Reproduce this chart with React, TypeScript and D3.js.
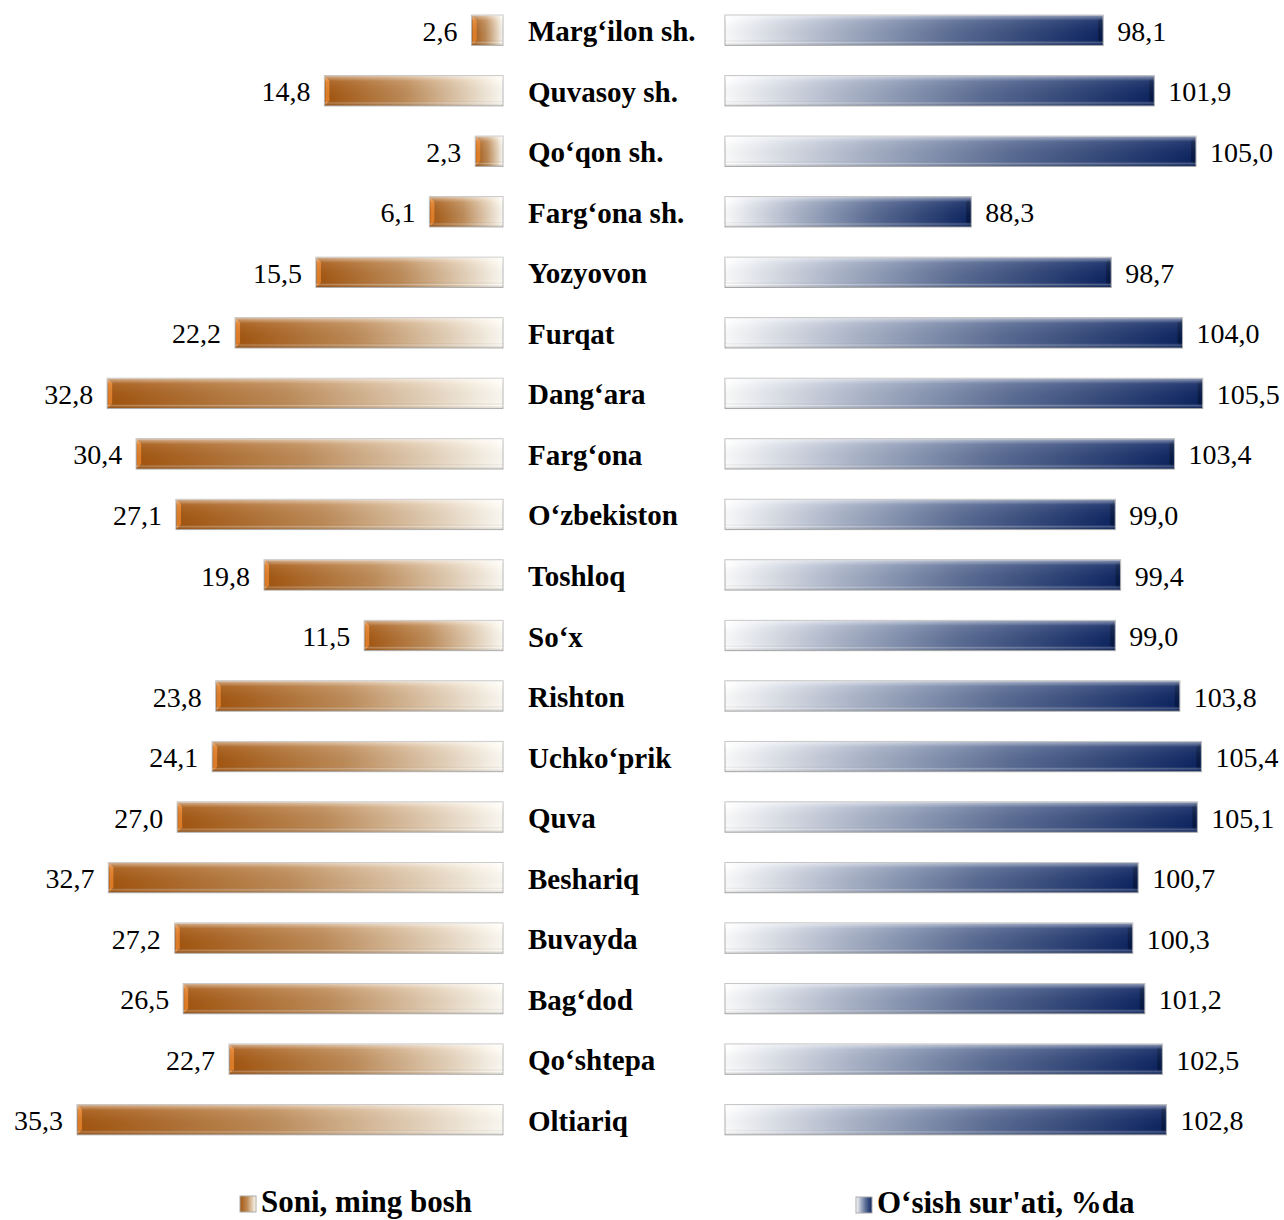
import React from "react";
import * as d3 from "d3";

const categories = [
  "Marg‘ilon sh.", "Quvasoy sh.", "Qo‘qon sh.", "Farg‘ona sh.", "Yozyovon", "Furqat",
  "Dang‘ara", "Farg‘ona", "O‘zbekiston", "Toshloq", "So‘x", "Rishton", "Uchko‘prik",
  "Quva", "Beshariq", "Buvayda", "Bag‘dod", "Qo‘shtepa", "Oltiariq",
];
const soni = [2.6, 14.8, 2.3, 6.1, 15.5, 22.2, 32.8, 30.4, 27.1, 19.8, 11.5, 23.8, 24.1, 27.0, 32.7, 27.2, 26.5, 22.7, 35.3];
const osish = [98.1, 101.9, 105.0, 88.3, 98.7, 104.0, 105.5, 103.4, 99.0, 99.4, 99.0, 103.8, 105.4, 105.1, 100.7, 100.3, 101.2, 102.5, 102.8];
const legendLabels = ["Soni, ming bosh", "O‘sish sur'ati, %da"];

const W = 1284;
const H = 1220;
const fmt = (v: number) => v.toFixed(1).replace(".", ",");

export default function App() {
  const y = d3.scaleBand<number>().domain(d3.range(categories.length)).range([0, 1150]).paddingInner(0.5).paddingOuter(0.25);
  const xL = d3.scaleLinear().domain([0, 35.3]).range([503, 77]);
  const xR = d3.scaleLinear().domain([70, 105]).range([725, 1196]);
  const bh = y.bandwidth();
  const font = "'Liberation Serif', 'Times New Roman', serif";
  return (
    <svg width={W} height={H} style={{ position: "absolute", left: 0, top: 0, display: "block", background: "#fff" }} fontFamily={font}>
      <defs>
        <linearGradient id="gL" x1="0" x2="1" y1="0" y2="0">
          <stop offset="0" stopColor="#a4550e" />
          <stop offset="0.45" stopColor="#bf8c58" />
          <stop offset="0.8" stopColor="#e6d3bb" />
          <stop offset="1" stopColor="#fffdf6" />
        </linearGradient>
        <linearGradient id="gR" x1="0" x2="1" y1="0" y2="0">
          <stop offset="0" stopColor="#ffffff" />
          <stop offset="0.3" stopColor="#a9b3c8" />
          <stop offset="0.6" stopColor="#5b6d95" />
          <stop offset="1" stopColor="#0c2461" />
        </linearGradient>
        <linearGradient id="bevel" x1="0" x2="0" y1="0" y2="1">
          <stop offset="0" stopColor="#ffffff" stopOpacity="0.55" />
          <stop offset="0.18" stopColor="#ffffff" stopOpacity="0.1" />
          <stop offset="0.82" stopColor="#000000" stopOpacity="0.02" />
          <stop offset="0.9" stopColor="#ffffff" stopOpacity="0.25" />
          <stop offset="1" stopColor="#000000" stopOpacity="0.1" />
        </linearGradient>
      </defs>
      {categories.map((c, i) => {
        const y0 = y(i)!;
        const cy = y0 + bh / 2 + 1;
        const lx = xL(soni[i]);
        const rx = xR(osish[i]);
        return (
          <g key={c}>
            <rect x={lx} y={y0} width={503 - lx} height={bh} fill="url(#gL)" stroke="#b8b8b8" strokeWidth={1} />
            <polygon points={`${lx + 1},${y0 + 1} ${lx + 5},${y0 + 5} ${lx + 5},${y0 + bh - 5} ${lx + 1},${y0 + bh - 1}`} fill="#e8832a" opacity={0.9} />
            <rect x={lx} y={y0} width={503 - lx} height={bh} fill="url(#bevel)" />
            <text x={lx - 14} y={cy} textAnchor="end" dominantBaseline="central" fontSize={28} fill="#000">{fmt(soni[i])}</text>
            <text x={528} y={cy} dominantBaseline="central" fontSize={29} fontWeight="bold" fill="#000">{c}</text>
            <rect x={725} y={y0} width={rx - 725} height={bh} fill="url(#gR)" stroke="#b0b0b0" strokeWidth={1} />
            <polygon points={`${rx - 1},${y0 + 1} ${rx - 5},${y0 + 5} ${rx - 5},${y0 + bh - 5} ${rx - 1},${y0 + bh - 1}`} fill="#06183f" opacity={0.8} />
            <rect x={725} y={y0} width={rx - 725} height={bh} fill="url(#bevel)" />
            <text x={rx + 14} y={cy} dominantBaseline="central" fontSize={28} fill="#000">{fmt(osish[i])}</text>
          </g>
        );
      })}
      <g>
        <rect x={240} y={1196} width={16} height={16} fill="url(#gL)" stroke="#aaa" />
        <text x={261} y={1212} fontSize={31} fontWeight="bold">{legendLabels[0]}</text>
        <rect x={856} y={1197} width={16} height={16} fill="url(#gR)" stroke="#aaa" />
        <text x={877} y={1213} fontSize={31} fontWeight="bold">{legendLabels[1]}</text>
      </g>
    </svg>
  );
}
